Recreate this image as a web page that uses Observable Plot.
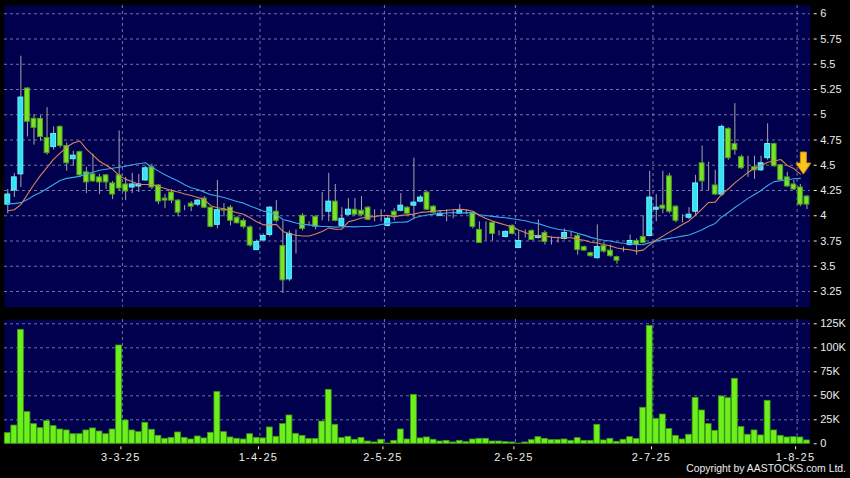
<!DOCTYPE html>
<html><head><meta charset="utf-8">
<script src="https://cdn.jsdelivr.net/npm/d3@7"></script>
<script src="https://cdn.jsdelivr.net/npm/@observablehq/plot@0.6"></script>
<style>
html,body{margin:0;padding:0;background:#000;}
#wrap{position:relative;width:850px;height:478px;background:#000;overflow:hidden;font-family:"Liberation Sans",Arial,sans-serif;}
#wrap svg{position:absolute;left:0;}
#copy{position:absolute;right:4px;top:463px;color:#ececec;font-size:10.4px;font-family:"Liberation Sans",Arial,sans-serif;}
.datelbl text{letter-spacing:1.3px;}
</style>
</head><body>
<div id="wrap"><div id="copy">Copyright by AASTOCKS.com Ltd.</div></div>
<script>
const open = [4.11,4.25,4.41,5.26,4.96,4.96,4.77,4.68,4.88,4.69,4.56,4.63,4.43,4.41,4.38,4.40,4.32,4.40,4.31,4.28,
4.29,4.35,4.48,4.30,4.17,4.23,4.15,4.07,4.12,4.11,4.17,4.08,3.91,4.06,4.08,3.98,3.95,3.885,3.66,3.755,
3.81,4.04,3.70,3.37,3.80,4.00,3.92,3.99,3.96,4.04,4.14,3.90,4.01,4.06,4.05,4.08,3.96,4.00,3.90,4.04,
4.05,4.08,4.10,4.14,4.23,4.09,4.00,4.03,4.03,4.02,4.03,4.03,3.86,3.86,3.93,3.81,3.79,3.90,3.68,3.79,
3.85,3.78,3.83,3.75,3.76,3.77,3.82,3.80,3.69,3.63,3.58,3.70,3.655,3.59,3.66,3.71,3.75,3.79,3.80,4.06,
4.10,4.39,4.09,3.97,3.98,4.04,4.52,4.36,4.30,4.21,4.86,4.71,4.58,4.48,4.48,4.45,4.57,4.71,4.50,4.38,
4.31,4.28,4.19];
const close = [4.21,4.38,5.17,4.93,4.87,4.78,4.62,4.81,4.69,4.52,4.595,4.40,4.33,4.34,4.33,4.33,4.21,4.27,4.24,4.31,
4.31,4.47,4.28,4.14,4.15,4.15,4.03,4.07,4.09,4.15,4.08,3.89,4.055,4.05,3.95,3.925,3.89,3.705,3.74,3.80,
4.08,3.95,3.36,3.82,3.80,3.87,3.92,3.89,3.96,4.14,3.95,3.97,4.06,4.01,4.01,3.96,3.96,4.00,3.97,4.00,
4.10,4.02,4.13,4.18,4.06,4.03,4.02,4.03,4.03,4.05,4.03,3.89,3.73,3.86,3.82,3.81,3.84,3.82,3.75,3.79,
3.76,3.80,3.74,3.75,3.76,3.83,3.82,3.66,3.655,3.60,3.69,3.645,3.60,3.555,3.66,3.75,3.71,3.73,4.18,4.08,
4.07,4.04,3.95,3.97,4.01,4.32,4.34,4.36,4.21,4.88,4.57,4.65,4.47,4.48,4.45,4.52,4.71,4.49,4.35,4.29,
4.26,4.11,4.11];
const high = [4.26,4.42,5.58,5.27,5.00,4.99,5.07,4.88,4.89,4.72,4.64,4.64,4.48,4.61,4.41,4.41,4.34,4.84,4.38,4.42,
4.41,4.49,4.51,4.31,4.21,4.26,4.16,4.10,4.14,4.16,4.19,4.08,4.35,4.12,4.10,3.99,3.97,3.90,3.76,3.82,
4.09,4.15,3.95,3.85,3.86,4.02,3.94,4.00,4.23,4.42,4.31,4.08,4.17,4.17,4.19,4.09,4.06,4.06,4.00,4.07,
4.22,4.09,4.57,4.20,4.24,4.10,4.05,4.06,4.06,4.11,4.06,4.04,3.94,3.94,3.94,3.85,3.85,3.91,3.85,3.86,
3.86,3.96,3.85,3.79,3.79,3.87,3.84,3.82,3.70,3.64,3.91,3.74,3.71,3.60,3.69,3.81,3.77,4.00,4.44,4.21,
4.44,4.42,4.10,4.01,4.08,4.40,4.69,4.53,4.45,4.90,4.87,5.11,4.60,4.59,4.59,4.59,4.91,4.72,4.51,4.43,
4.35,4.31,4.20];
const low = [4.02,4.18,4.28,4.78,4.70,4.74,4.60,4.65,4.67,4.44,4.49,4.39,4.22,4.33,4.21,4.26,4.16,4.25,4.15,4.22,
4.23,4.34,4.26,4.11,4.07,4.12,3.99,4.05,4.04,4.09,4.07,3.88,3.87,3.99,3.90,3.92,3.87,3.69,3.66,3.75,
3.79,3.93,3.23,3.35,3.62,3.85,3.90,3.86,3.95,3.94,3.94,3.88,4.00,4.00,3.99,3.95,3.94,3.94,3.89,3.95,
4.04,4.01,3.96,4.13,4.05,4.02,3.99,3.94,3.97,4.02,4.01,3.87,3.73,3.75,3.75,3.80,3.78,3.81,3.68,3.78,
3.76,3.77,3.71,3.71,3.73,3.76,3.79,3.61,3.65,3.59,3.57,3.63,3.59,3.52,3.64,3.70,3.61,3.72,3.79,3.94,
4.02,4.02,3.93,3.93,3.96,4.00,4.25,4.25,4.20,4.19,4.55,4.60,4.46,4.38,4.36,4.44,4.55,4.48,4.34,4.28,
4.25,4.09,4.06];
// volume in thousands of shares
const volumeK = [11.1,19,118.7,33,20.5,16.3,23.6,18.4,14.9,13.9,10,10,13.9,16,12.8,10,14.9,102.4,24.3,13.9,
12.1,21.9,14.6,8.3,5.2,6.2,11.8,6.2,4.5,7.6,5.6,11.5,54,12.1,6.6,5.2,4.5,10,6.2,5.6,
17,7.3,20.5,29.5,10.4,8.3,4.9,4.9,23.2,56.2,19.8,5.9,7.3,4.2,6.2,2.4,1.4,4.2,0.3,3.1,
14.9,4.5,51,5.6,6.6,4.2,2.4,3.1,1.4,3.1,1.7,4.5,5.2,5.2,2.4,2.4,1.7,1.4,0.3,1.4,
3.8,6.9,5.2,3.8,3.8,4.5,3.1,5.9,3.1,3.1,19.8,3.5,5.2,2.1,4.2,6.9,4.9,37.5,122.8,26,
30.5,15.3,8.3,4.5,9.4,47.9,34.7,20.5,13.5,49.3,47.5,67.7,17.4,9.4,13.9,8.7,44.8,13.9,8.3,6.6,
6.9,6.6,3.5];
const ma10 = [4.05,4.06,4.11,4.21,4.31,4.40,4.48,4.56,4.62,4.68,4.72,4.74,4.66,4.60,4.54,4.50,4.46,4.40,4.36,4.34,
4.31,4.31,4.31,4.29,4.27,4.25,4.235,4.215,4.20,4.18,4.16,4.10,4.08,4.07,4.05,4.03,4.015,3.98,3.94,3.91,
3.91,3.915,3.845,3.822,3.807,3.80,3.80,3.82,3.845,3.88,3.866,3.868,3.94,3.957,3.978,3.987,3.991,4.002,4.003,3.989,
4.004,4.009,4.016,4.033,4.038,4.045,4.051,4.054,4.06,4.065,4.058,4.045,4.005,3.973,3.949,3.927,3.909,3.888,3.86,3.834,
3.807,3.798,3.799,3.788,3.782,3.784,3.782,3.766,3.757,3.738,3.73,3.715,3.701,3.68,3.67,3.664,3.65,3.66,3.712,3.76,
3.798,3.838,3.873,3.914,3.949,4.006,4.069,4.132,4.135,4.215,4.265,4.326,4.378,4.429,4.473,4.493,4.53,4.543,4.557,4.498,
4.467,4.413];
const ma20 = [4.12,4.12,4.13,4.16,4.20,4.23,4.27,4.31,4.35,4.37,4.38,4.39,4.415,4.43,4.45,4.46,4.47,4.48,4.49,4.505,
4.515,4.525,4.482,4.442,4.406,4.375,4.345,4.308,4.278,4.26,4.234,4.209,4.195,4.18,4.161,4.141,4.125,4.097,4.072,4.046,
4.035,4.009,3.963,3.947,3.929,3.915,3.91,3.90,3.894,3.894,3.887,3.891,3.892,3.89,3.893,3.894,3.898,3.913,3.924,3.934,
3.935,3.939,3.977,3.995,4.008,4.016,4.021,4.028,4.032,4.027,4.031,4.027,4.01,4.003,3.994,3.986,3.98,3.971,3.96,3.95,
3.933,3.922,3.902,3.881,3.866,3.856,3.846,3.827,3.808,3.786,3.769,3.757,3.75,3.735,3.727,3.724,3.717,3.713,3.734,3.749,
3.764,3.776,3.787,3.798,3.81,3.835,3.861,3.896,3.924,3.988,4.032,4.082,4.125,4.172,4.211,4.25,4.30,4.338,4.346,4.357,
4.366,4.37];
const dateTickIndex = [18,39,58,78,99,121];
const dateTickLabels = ["3-3-25","1-4-25","2-5-25","2-6-25","2-7-25","1-8-25"];
const priceTicks = [6,5.75,5.5,5.25,5,4.75,4.5,4.25,4,3.75,3.5,3.25];
const volumeTicks = [0,25000,50000,75000,100000,125000];

// ---- build tables
const candles = open.map((o,i)=>({i, open:o, close:close[i], high:high[i], low:low[i]}));
const vols = volumeK.map((v,i)=>({i, v:v*1000}));
const ma10d = ma10.map((v,i)=>({i, v}));
const ma20d = ma20.map((v,i)=>({i, v}));
const gridPos = dateTickIndex.map(d=>d-0.5);
const labelOf = new Map(gridPos.map((p,k)=>[p, dateTickLabels[k]]));

const UP="#33e3f3", UPS="#6ff0fa", DOWN="#7be22a", DOWNS="#4f9e1c", DOJI="#a6a6a6";
const kind = d => d.close > d.open + 0.001 ? "up" : (d.close < d.open - 0.001 ? "down" : "doji");
const fillOf = d => ({up:UP, down:DOWN, doji:DOJI})[kind(d)];
const strokeOf = d => ({up:UPS, down:DOWNS, doji:DOJI})[kind(d)];

const NAVY = "#00004e", GRID = "#7474a4", TXT = "#ececec";
const xDomain = [-0.5, 122.5];
const W = 850, ML = 4, MR = 40.3;
const style = {background:"transparent", color:TXT, fontFamily:'"Liberation Sans", Arial, sans-serif', fontSize:"11px"};

const arrowSymbol = {draw(ctx){
  ctx.moveTo(-3,-22); ctx.lineTo(3,-22); ctx.lineTo(3,-11); ctx.lineTo(7.5,-11);
  ctx.lineTo(0,0); ctx.lineTo(-7.5,-11); ctx.lineTo(-3,-11); ctx.closePath();
}};

const pricePlot = Plot.plot({
  width: W, height: 312, marginLeft: ML, marginRight: MR, marginTop: 5, marginBottom: 5.3,
  style,
  x: {domain: xDomain, axis: null, label: null},
  y: {domain: [3.0945, 6.082], axis: null, label: null},
  marks: [
    Plot.frame({fill: NAVY, stroke: null}),
    Plot.gridY(priceTicks, {stroke: GRID, strokeOpacity: 1, strokeDasharray: "3,3"}),
    Plot.gridX(gridPos, {stroke: GRID, strokeOpacity: 1, strokeDasharray: "3,3"}),
    Plot.ruleX(candles, {x: "i", y1: "low", y2: "high", stroke: "#a4a4ac", strokeWidth: 1}),
    Plot.rect(candles, {x1: d=>d.i-0.37, x2: d=>d.i+0.37, y1: "open", y2: "close", fill: fillOf, stroke: strokeOf, strokeWidth: 1}),
    Plot.line(ma20d, {x: "i", y: "v", stroke: "#3aa6ea", strokeWidth: 1.1}),
    Plot.line(ma10d, {x: "i", y: "v", stroke: "#d9855a", strokeWidth: 1.1}),
    Plot.dot(ma10d.slice(-1), {x: "i", y: "v", symbol: arrowSymbol, r: 5, fill: "#f8c61c", stroke: "#d98a00", strokeWidth: 1, dx: 3}),
    Plot.axisY(priceTicks, {anchor: "right", label: null, tickSize: 3, tickPadding: 4, dx: 3, tickFormat: d => String(d)})
  ]
});
pricePlot.style.top = "0px";

const volPlot = Plot.plot({
  width: W, height: 166, marginLeft: ML, marginRight: MR, marginTop: 7, marginBottom: 34.7,
  style,
  x: {domain: xDomain, axis: null, label: null},
  y: {domain: [0, 129480], axis: null, label: null},
  marks: [
    Plot.frame({fill: NAVY, stroke: null}),
    Plot.gridY(volumeTicks.filter(d=>d>0), {stroke: GRID, strokeOpacity: 1, strokeDasharray: "3,3"}),
    Plot.gridX(gridPos, {stroke: GRID, strokeOpacity: 1, strokeDasharray: "3,3"}),
    Plot.rect(vols, {x1: d=>d.i-0.45, x2: d=>d.i+0.45, y1: 0, y2: "v", fill: "#6cf01c", stroke: "#3f9a14", strokeWidth: 0.8}),
    Plot.axisY(volumeTicks, {anchor: "right", label: null, tickSize: 3, tickPadding: 4, dx: 3, tickFormat: d => d === 0 ? "0" : (d/1000) + "K"}),
    Plot.axisX(gridPos, {anchor: "bottom", label: null, tickSize: 3, tickPadding: 3, dy: 3, dx: -1.5, tickFormat: d => labelOf.get(d), className: "datelbl"})
  ]
});
volPlot.style.top = "312px";

const wrap = document.getElementById("wrap");
wrap.insertBefore(volPlot, wrap.firstChild);
wrap.insertBefore(pricePlot, wrap.firstChild);
</script>
</body></html>
